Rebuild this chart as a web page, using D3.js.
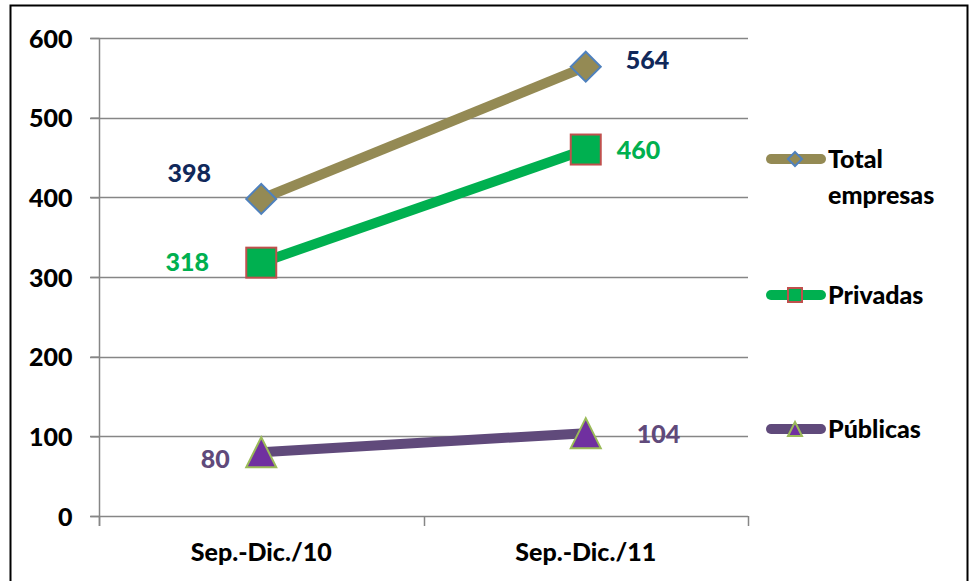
<!DOCTYPE html>
<html><head><meta charset="utf-8">
<script src="https://cdn.jsdelivr.net/npm/d3@7"></script>
<style>body{margin:0;background:#fff}svg text{font-family:Lato,"Open Sans",sans-serif;font-weight:900}</style>
</head><body>
<svg id="c" width="975" height="581"></svg>
<script>
const categories = ["Sep.-Dic./10", "Sep.-Dic./11"];
const seriesNames = ["Total empresas", "Privadas", "Públicas"];
const totalValues = [398, 564];
const privadasValues = [318, 460];
const publicasValues = [80, 104];
const yTicks = [0, 100, 200, 300, 400, 500, 600];

const series = [
  {name: seriesNames[0], lines: ["Total", "empresas"], values: totalValues, color: "#948A54", fill: "#948A54", stroke: "#4F81BD", label: "#10285A", symbol: "diamond",
   lab: [{dx: -72, dy: -26, a: "middle"}, {dx: 40, dy: -7, a: "start"}], ly: 159},
  {name: seriesNames[1], lines: ["Privadas"], values: privadasValues, color: "#00B050", fill: "#00B050", stroke: "#C0504D", label: "#00B050", symbol: "square",
   lab: [{dx: -74, dy: -1, a: "middle"}, {dx: 31, dy: 0, a: "start"}], ly: 295},
  {name: seriesNames[2], lines: ["Públicas"], values: publicasValues, color: "#604A7B", fill: "#7030A0", stroke: "#9BBB59", label: "#604A7B", symbol: "triangle",
   lab: [{dx: -46, dy: 7, a: "middle"}, {dx: 51, dy: 1, a: "start"}], ly: 429}
];

const FW = 900;
const svg = d3.select("#c");
svg.append("rect").attr("x", 10.5).attr("y", 5.5).attr("width", 957).attr("height", 600)
  .attr("fill", "none").attr("stroke", "#000").attr("stroke-width", 2);

const x = d3.scaleBand().domain(categories).range([99, 748]);
const y = d3.scaleLinear().domain([0, 600]).range([516, 38]);
const cx = d => x(d) + x.bandwidth() / 2;

svg.append("g").selectAll("line").data(yTicks.filter(t => t > 0)).join("line")
  .attr("x1", 90).attr("x2", 748).attr("y1", d => Math.round(y(d)) + 0.5).attr("y2", d => Math.round(y(d)) + 0.5)
  .attr("stroke", "#868686").attr("stroke-width", 1.5);

const yAxis = svg.append("g").attr("transform", "translate(99.5,0)")
  .call(d3.axisLeft(y).tickValues(yTicks).tickSize(9).tickPadding(18));
yAxis.select(".domain").attr("stroke", "#868686").attr("stroke-width", 1.5).attr("d", "M0,38V526");
yAxis.selectAll(".tick line").attr("stroke", "#868686").attr("stroke-width", 1.5);
yAxis.selectAll(".tick text").attr("font-size", 25).attr("fill", "#000").attr("font-family", "Lato").attr("font-weight", FW).attr("dy", "0.36em");

const xAxis = svg.append("g").attr("transform", "translate(0,516.5)")
  .call(d3.axisBottom(x).tickSize(0).tickPadding(27));
xAxis.select(".domain").attr("stroke", "#868686").attr("stroke-width", 1.5).attr("d", "M90,0H748");
xAxis.selectAll(".tick text").attr("font-size", 25).attr("fill", "#000").attr("font-family", "Lato").attr("font-weight", FW).attr("dy", "0.71em");
svg.append("g").selectAll("line").data([99, ...categories.map(c => x(c) + x.bandwidth())]).join("line")
  .attr("x1", d => Math.round(d) + 0.5).attr("x2", d => Math.round(d) + 0.5).attr("y1", 516).attr("y2", 526)
  .attr("stroke", "#868686").attr("stroke-width", 1.5);

function marker(g, s, px, py, size) {
  const h = size / 2;
  if (s.symbol === "diamond") {
    g.append("path").attr("d", `M${px},${py - h}L${px + h},${py}L${px},${py + h}L${px - h},${py}Z`)
      .attr("fill", s.fill).attr("stroke", s.stroke).attr("stroke-width", 2);
  } else if (s.symbol === "square") {
    g.append("rect").attr("x", px - h).attr("y", py - h).attr("width", size).attr("height", size)
      .attr("fill", s.fill).attr("stroke", s.stroke).attr("stroke-width", 2);
  } else {
    g.append("path").attr("d", `M${px},${py - h}L${px + h},${py + h}L${px - h},${py + h}Z`)
      .attr("fill", s.fill).attr("stroke", s.stroke).attr("stroke-width", 2);
  }
}

const line = d3.line().x((d, i) => cx(categories[i])).y(d => y(d));
series.forEach(s => {
  const g = svg.append("g");
  g.append("path").attr("d", line(s.values)).attr("fill", "none").attr("stroke", s.color).attr("stroke-width", 10);
  s.values.forEach((v, i) => {
    marker(g, s, cx(categories[i]), y(v), 30);
    const L = s.lab[i];
    g.append("text").attr("x", cx(categories[i]) + L.dx).attr("y", y(v) + L.dy).attr("dy", "0.36em")
      .attr("text-anchor", L.a).attr("font-size", 25).attr("fill", s.label).text(v);
  });
  const lg = svg.append("g");
  lg.append("line").attr("x1", 771).attr("x2", 821).attr("y1", s.ly).attr("y2", s.ly)
    .attr("stroke", s.color).attr("stroke-width", 10).attr("stroke-linecap", "round");
  marker(lg, s, 795, s.ly, 14);
  s.lines.forEach((t, k) => {
    lg.append("text").attr("x", 828).attr("y", s.ly + k * 36).attr("dy", "0.36em")
      .attr("font-size", 25).attr("fill", "#000").text(t);
  });
});
</script>
</body></html>
